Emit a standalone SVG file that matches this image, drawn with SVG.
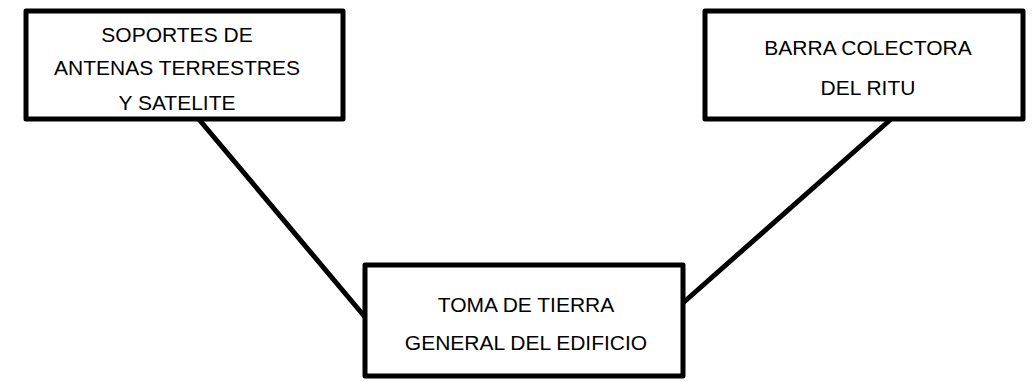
<svg xmlns="http://www.w3.org/2000/svg" width="1034" height="383" viewBox="0 0 1034 383">
<style>
.box{fill:#fff;stroke:#000;stroke-width:5;stroke-linejoin:round}
.lbl{font-family:"Liberation Sans",Arial,sans-serif;font-size:21px;fill:#000;text-anchor:middle}
.con{stroke:#000;stroke-width:5;stroke-linecap:round;fill:none}
</style>
<rect width="1034" height="383" fill="#fff"/>
<g id="connectors">
<line class="con" x1="197" y1="117" x2="365" y2="317"/>
<line class="con" x1="890" y1="120" x2="684" y2="302"/>
</g>
<g id="node-soportes">
<rect class="box" x="26" y="11" width="317" height="108"/>
<text class="lbl" x="177" y="42">SOPORTES DE</text>
<text class="lbl" x="177" y="75">ANTENAS TERRESTRES</text>
<text class="lbl" x="177" y="110">Y SATELITE</text>
</g>
<g id="node-barra">
<rect class="box" x="705" y="11" width="318" height="108"/>
<text class="lbl" x="868" y="55">BARRA COLECTORA</text>
<text class="lbl" x="868" y="95">DEL RITU</text>
</g>
<g id="node-toma">
<rect class="box" x="365" y="265" width="318" height="111"/>
<text class="lbl" x="526" y="312">TOMA DE TIERRA</text>
<text class="lbl" x="526" y="350">GENERAL DEL EDIFICIO</text>
</g>
</svg>
